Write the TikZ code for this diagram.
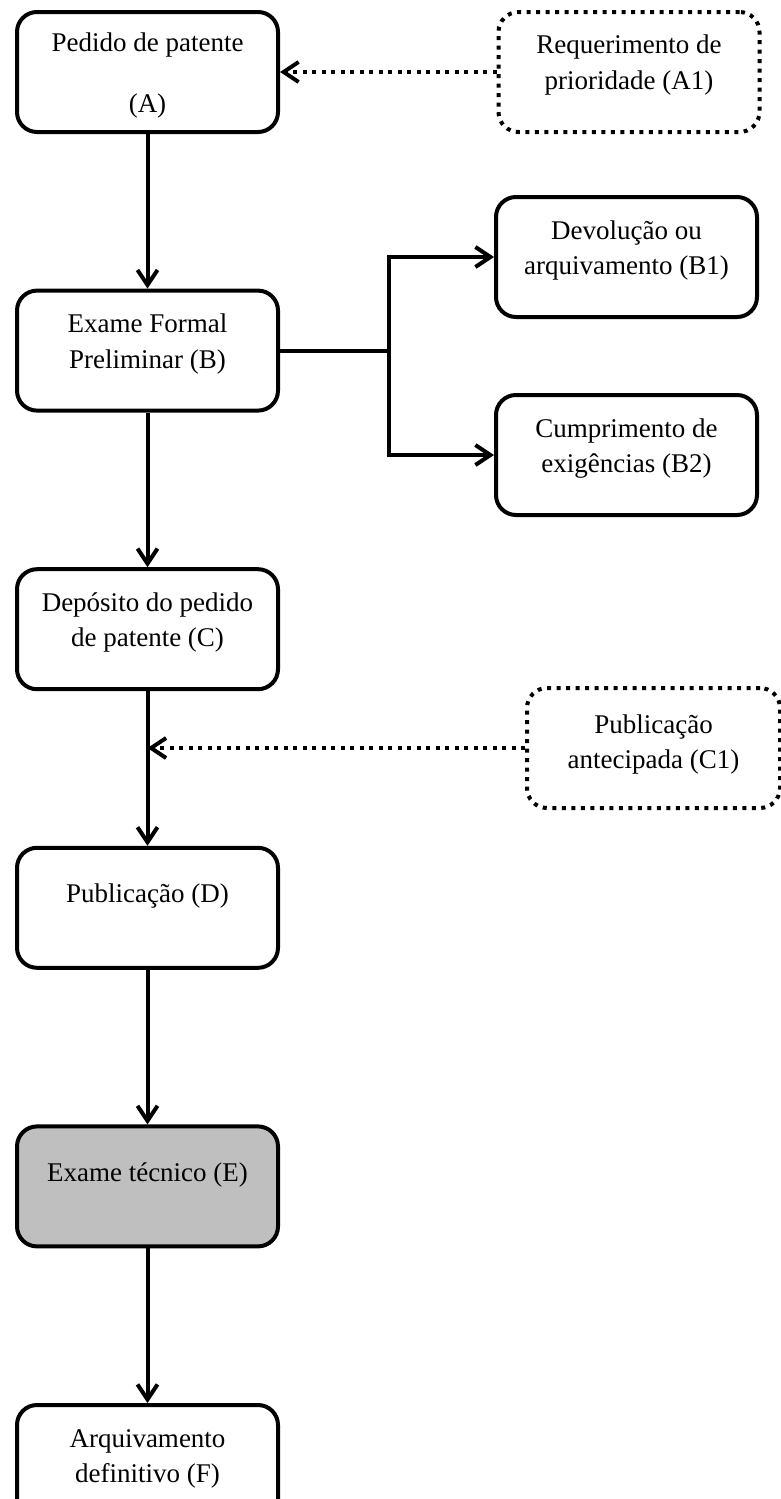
\documentclass[tikz,border=0pt]{standalone}
\usepackage{fontspec}
\setmainfont{Liberation Serif}
\usetikzlibrary{arrows.meta,positioning,calc}

\begin{document}
\begin{tikzpicture}[x=0.5pt,y=-0.5pt,
    font=\fontsize{13.5pt}{17.75pt}\selectfont,
    box/.style={draw,line width=2pt,rounded corners=10pt,inner sep=0pt,
        minimum width=130.5pt,text height=21pt,text depth=39pt,
        execute at begin node={\begin{minipage}[t]{120pt}\centering},
        execute at end node={\end{minipage}}},
    oneline/.style={text height=27.5pt,text depth=32.5pt},
    optbox/.style={box,dash pattern=on 2pt off 2.75pt},
    arr/.style={line width=2pt,-{Straight Barb[length=7.5pt,width=10pt]}},
    optarr/.style={arr,dash pattern=on 2pt off 2.75pt},
    node distance=77.3pt]
  \useasboundingbox (0,0) rectangle (781,1499);

  % main column
  \node[box,text height=19.5pt,text depth=40.5pt] (A) at (147.5,72) {Pedido de patente\\[12.75pt](A)};
  \node[box,below=of A] (B) {Exame Formal\\Preliminar (B)};
  \node[box,below=of B] (C) {Depósito do pedido\\de patente (C)};
  \node[box,oneline,below=of C] (D) {Publicação (D)};
  \node[box,oneline,fill=gray!50,below=of D] (E) {Exame técnico (E)};
  \node[box,below=of E] (F) {Arquivamento\\definitivo (F)};

  % side boxes
  \node[optbox] (A1) at (629,72) {Requerimento de\\prioridade (A1)};
  \node[box] (B1) at (626.5,257) {Devolução ou\\arquivamento (B1)};
  \node[box] (B2) at (626.5,455) {Cumprimento de\\exigências (B2)};
  \node[optbox,minimum width=126.5pt,text height=22.5pt,text depth=37.5pt] (C1) at (653.5,748) {Publicação\\antecipada (C1)};

  \coordinate (split) at ([xshift=54.5pt]B.east);
  \coordinate (merge) at (C.south |- C1.west);

  \draw[arr] (A) -- (B);
  \draw[arr] (B) -- (C);
  \draw[arr] (C) -- (D);
  \draw[arr] (D) -- (E);
  \draw[arr] (E) -- (F);

  \draw[line width=2pt] (B.east) -- (split);
  \draw[arr] (split) |- (B1.west);
  \draw[arr] (split) |- (B2.west);

  \draw[optarr] (A1.west) -- (A.east);
  \draw[optarr] (C1.west) -- (merge);
\end{tikzpicture}
\end{document}
